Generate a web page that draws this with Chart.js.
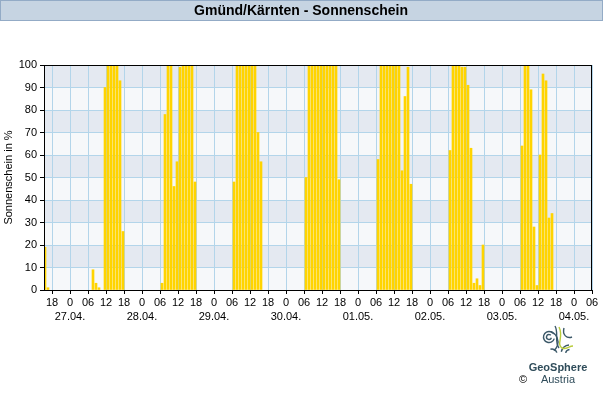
<!DOCTYPE html>
<html>
<head>
<meta charset="utf-8">
<script src="https://cdn.jsdelivr.net/npm/chart.js@4"></script>
<style>
  html, body { margin: 0; padding: 0; background: #fff; }
</style>
</head>
<body>
<canvas id="sunChart" width="603" height="400"></canvas>
<script>
// sunshine in % per hour (hour ending at 07 ... 18), one array per day
const titleText = 'Gmünd/Kärnten - Sonnenschein';
const yTitle = 'Sonnenschein in %';
const dates = ['26.04.', '27.04.', '28.04.', '29.04.', '30.04.', '01.05.', '02.05.', '03.05.', '04.05.'];
const dayHours = [7, 8, 9, 10, 11, 12, 13, 14, 15, 16, 17, 18];
const sun2604 = [0, 0, 0, 0, 0, 0, 0, 0, 0, 19, 1, 0];
const sun2704 = [0, 9, 3, 1, 0, 90, 100, 100, 100, 100, 93, 26];
const sun2804 = [3, 78, 100, 100, 46, 57, 99, 100, 100, 100, 100, 48];
const sun2904 = [48, 100, 100, 100, 100, 100, 100, 100, 70, 57, 0, 0];
const sun3004 = [50, 100, 100, 100, 100, 100, 100, 100, 100, 100, 100, 49];
const sun0105 = [58, 100, 100, 100, 100, 100, 100, 100, 53, 86, 99, 47];
const sun0205 = [62, 100, 100, 100, 99, 99, 91, 63, 3, 5, 2, 20];
const sun0305 = [64, 100, 100, 89, 28, 2, 60, 96, 93, 32, 34, 0];
const sunDays = [sun2604, sun2704, sun2804, sun2904, sun3004, sun0105, sun0205, sun0305];
const yTicks = [0, 10, 20, 30, 40, 50, 60, 70, 80, 90, 100];

// x = hours since 26.04. 00:00, each bar sits in the hour before its time stamp
const points = [];
sunDays.forEach((vals, d) => {
  vals.forEach((v, i) => {
    if (v > 0) points.push({ x: d * 24 + dayHours[i] - 1 / 3, y: v });
  });
});
const xTickVals = [];
for (let t = 18; t <= 198; t += 6) xTickVals.push(t);

const fontFam = "'Liberation Sans', Arial, sans-serif";
const gridCol = '#b3d5ea';

const decor = {
  id: 'decor',
  beforeDraw(chart) {
    const { ctx, chartArea: a, scales: { y } } = chart;
    ctx.save();
    for (let v = 0; v < 100; v += 10) {
      ctx.fillStyle = (v / 10) % 2 === 1 ? '#e4e9f1' : '#f6f8fa';
      const top = y.getPixelForValue(v + 10), bot = y.getPixelForValue(v);
      ctx.fillRect(a.left, top, a.right - a.left, bot - top);
    }
    ctx.restore();
  },
  afterDraw(chart) {
    const { ctx, chartArea: a } = chart;
    ctx.save();
    // frame
    ctx.strokeStyle = '#000';
    ctx.lineWidth = 1;
    ctx.strokeRect(Math.round(a.left) + 0.5, Math.round(a.top) + 0.5,
      Math.round(a.right - a.left) - 1, Math.round(a.bottom - a.top));
    // title bar
    ctx.fillStyle = '#c6d4e2';
    ctx.fillRect(0, 0, 603, 21);
    ctx.strokeStyle = '#93abc6';
    ctx.strokeRect(0.5, 0.5, 602, 20);
    ctx.fillStyle = '#000';
    ctx.font = 'bold 14px ' + fontFam;
    ctx.textAlign = 'center';
    ctx.textBaseline = 'middle';
    ctx.fillText(titleText, 301, 11);
    // logo
    const cx = 558, cy = 341;
    ctx.strokeStyle = '#3b5868';
    ctx.lineWidth = 1.4;
    [2.5, 5.5].forEach(r => { ctx.beginPath(); ctx.arc(cx - 9, cy - 4, r, 0.3, 5.5); ctx.stroke(); });
    ctx.beginPath(); ctx.arc(cx - 11, cy + 1, 11, -1.2, 0.9); ctx.stroke();
    ctx.beginPath(); ctx.moveTo(cx - 3, cy - 15); ctx.bezierCurveTo(cx + 1, cy - 8, cx - 4, cy, cx + 1, cy + 7); ctx.stroke();
    ctx.beginPath(); ctx.moveTo(cx + 6, cy - 13); ctx.bezierCurveTo(cx + 4, cy - 6, cx + 9, cy - 2, cx + 14, cy - 4); ctx.stroke();
    ctx.beginPath(); ctx.arc(cx + 12, cy + 13, 9, 3.4, 4.6); ctx.stroke();
    ctx.beginPath(); ctx.arc(cx + 12, cy + 13, 4.5, 3.4, 4.6); ctx.stroke();
    ctx.beginPath(); ctx.arc(cx - 6, cy + 13, 5, 4.4, 6.0); ctx.stroke();
    ctx.strokeStyle = '#b9cc3c';
    ctx.beginPath(); ctx.moveTo(cx + 1, cy - 14); ctx.bezierCurveTo(cx + 6, cy - 4, cx - 2, cy + 3, cx + 4, cy + 7);
    ctx.bezierCurveTo(cx + 8, cy + 9, cx + 11, cy + 5, cx + 15, cy + 5); ctx.stroke();
    ctx.fillStyle = '#2f4c5a';
    ctx.font = 'bold 11px ' + fontFam;
    ctx.fillText('GeoSphere', 558, 368);
    ctx.font = '11px ' + fontFam;
    ctx.fillText('Austria', 558, 380);
    ctx.fillStyle = '#000';
    ctx.fillText('©', 523, 380);
    ctx.restore();
  }
};

new Chart(document.getElementById('sunChart'), {
  type: 'bar',
  data: {
    datasets: [{
      label: yTitle,
      data: points,
      backgroundColor: '#ffd400',
      borderWidth: 0,
      barThickness: 2
    }]
  },
  options: {
    responsive: false,
    animation: false,
    devicePixelRatio: 1,
    layout: { padding: { top: 65, right: 11, bottom: 0, left: 0 } },
    plugins: { legend: { display: false }, tooltip: { enabled: false }, title: { display: false } },
    scales: {
      x: {
        type: 'linear',
        min: 15 + 1 / 3,
        max: 198,
        offset: false,
        grid: { color: gridCol, tickColor: '#000', tickLength: 4, offset: false },
        border: { color: '#000' },
        afterBuildTicks: s => { s.ticks = xTickVals.map(v => ({ value: v })); },
        afterFit: s => { s.height = 110; },
        ticks: {
          color: '#000',
          autoSkip: false,
          maxRotation: 0,
          padding: 2,
          font: { family: fontFam, size: 11, lineHeight: 1.3 },
          callback: v => {
            const h = v % 24;
            if (h === 0) return ['0', dates[v / 24]];
            return String(h).padStart(2, '0');
          }
        }
      },
      y: {
        min: 0,
        max: 100,
        grid: { color: gridCol, tickColor: '#000', tickLength: 4 },
        border: { color: '#000' },
        afterBuildTicks: s => { s.ticks = yTicks.map(v => ({ value: v })); },
        afterFit: s => { s.width = 44; },
        ticks: { color: '#000', padding: 3, font: { family: fontFam, size: 11 } },
        title: {
          display: true,
          text: yTitle,
          color: '#000',
          padding: { top: 2, bottom: 0 },
          font: { family: fontFam, size: 11 }
        }
      }
    }
  },
  plugins: [decor]
});
</script>
</body>
</html>
